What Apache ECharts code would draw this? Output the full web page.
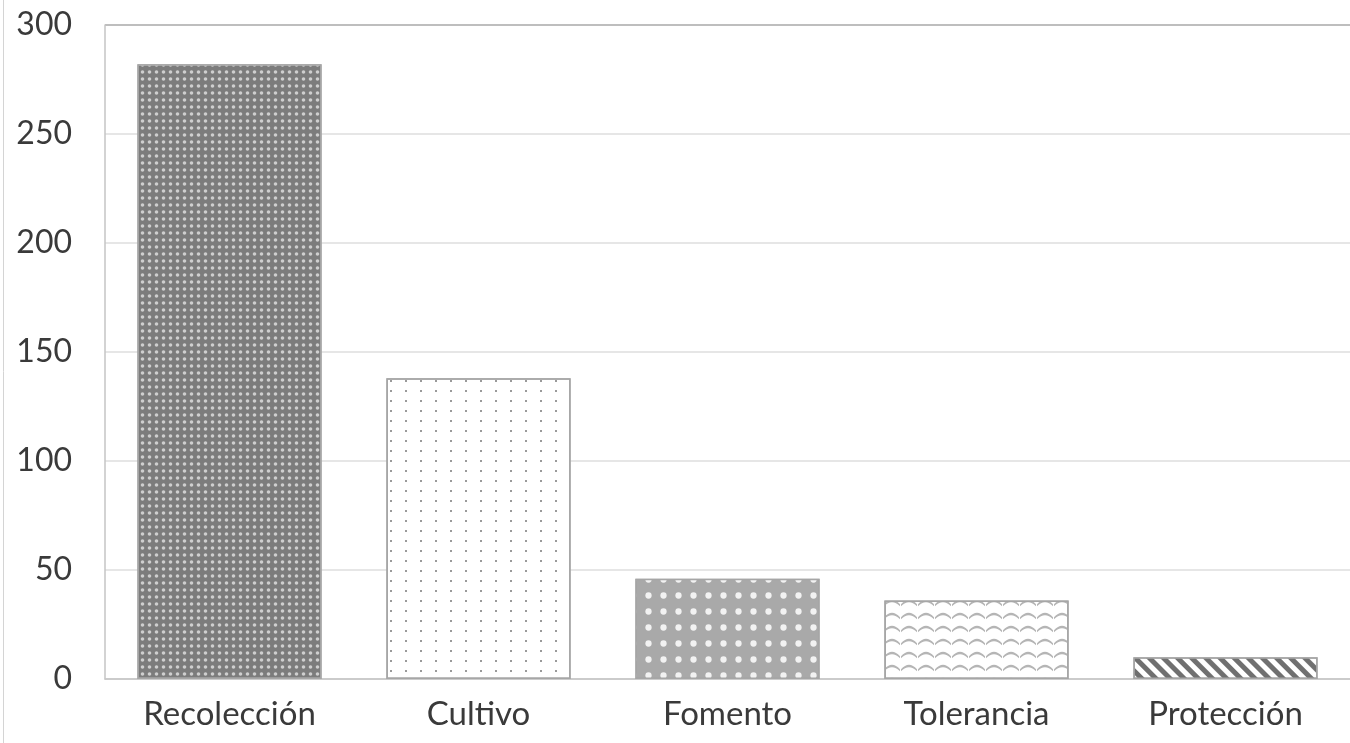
<!DOCTYPE html>
<html>
<head>
<meta charset="utf-8">
<title>Actividades</title>
<script src="https://cdn.jsdelivr.net/npm/echarts@6/dist/echarts.min.js"></script>
<style>
    html, body { margin: 0; padding: 0; background: #fff; }
    #chart { width: 1350px; height: 743px; }
</style>
</head>
<body>
<div id="chart"></div>
<script>
const categories = ['Recolección', 'Cultivo', 'Fomento', 'Tolerancia', 'Protección'];
const values = [282, 138, 46, 36, 10];
const yTicks = [0, 50, 100, 150, 200, 250, 300];

// one fill pattern per bar
const patterns = [
    { color: '#7c7c7c', decal: { color: '#cfcfcf', symbol: 'circle', symbolSize: 0.9, dashArrayX: [5, 2], dashArrayY: [4, 2.5] } },
    { color: '#ffffff', decal: { color: '#9a9a9a', symbol: 'rect', symbolSize: 1, dashArrayX: [2, 13], dashArrayY: [1.5, 8] } },
    { color: '#a9a9a9', decal: { color: '#f2f2f2', symbol: 'circle', symbolSize: 0.9, dashArrayX: [7, 8], dashArrayY: [7, 9] } },
    { color: '#ffffff', decal: { color: '#b5b5b5', symbol: 'path://M0 9 Q8 0 16 9 L16 11 Q8 3 0 11 Z', symbolSize: 1, dashArrayX: [16, 1], dashArrayY: [10, 3] } },
    { color: '#ffffff', decal: { color: '#707070', symbol: 'rect', symbolSize: 1, dashArrayX: [1, 0], dashArrayY: [5, 5], rotation: Math.PI / 4 } }
];

const chart = echarts.init(document.getElementById('chart'));

chart.setOption({
    animation: false,
    aria: { enabled: true, decal: { show: true } },
    grid: { left: 105, right: -5, top: 25, bottom: 64 },
    graphic: [{
        type: 'line',
        shape: { x1: 3.5, y1: 0, x2: 3.5, y2: 743 },
        style: { stroke: '#d4d4d4', lineWidth: 1 }
    }],
    xAxis: {
        type: 'category',
        data: categories,
        axisTick: { show: false },
        axisLine: { lineStyle: { color: '#c8c8c8', width: 1.5 } },
        axisLabel: {
            color: '#3a3a3a',
            fontFamily: 'Lato',
            fontSize: 33,
            margin: 19
        }
    },
    yAxis: {
        type: 'value',
        min: yTicks[0],
        max: yTicks[yTicks.length - 1],
        interval: 50,
        axisTick: { show: false },
        axisLine: { show: true, lineStyle: { color: '#c4c4c4', width: 1.5 } },
        splitLine: {
            lineStyle: {
                color: ['#c8c8c8', '#dedede', '#dedede', '#dedede', '#dedede', '#dedede', '#a8a8a8'],
                width: 1.5
            }
        },
        axisLabel: {
            color: '#3a3a3a',
            fontFamily: 'Lato',
            fontSize: 32,
            margin: 33
        }
    },
    series: [{
        type: 'bar',
        barWidth: '74%',
        data: values.map((v, i) => ({
            value: v,
            itemStyle: {
                color: patterns[i].color,
                decal: patterns[i].decal,
                borderColor: '#a6a6a6',
                borderWidth: 1.5
            }
        }))
    }]
});
</script>
</body>
</html>
